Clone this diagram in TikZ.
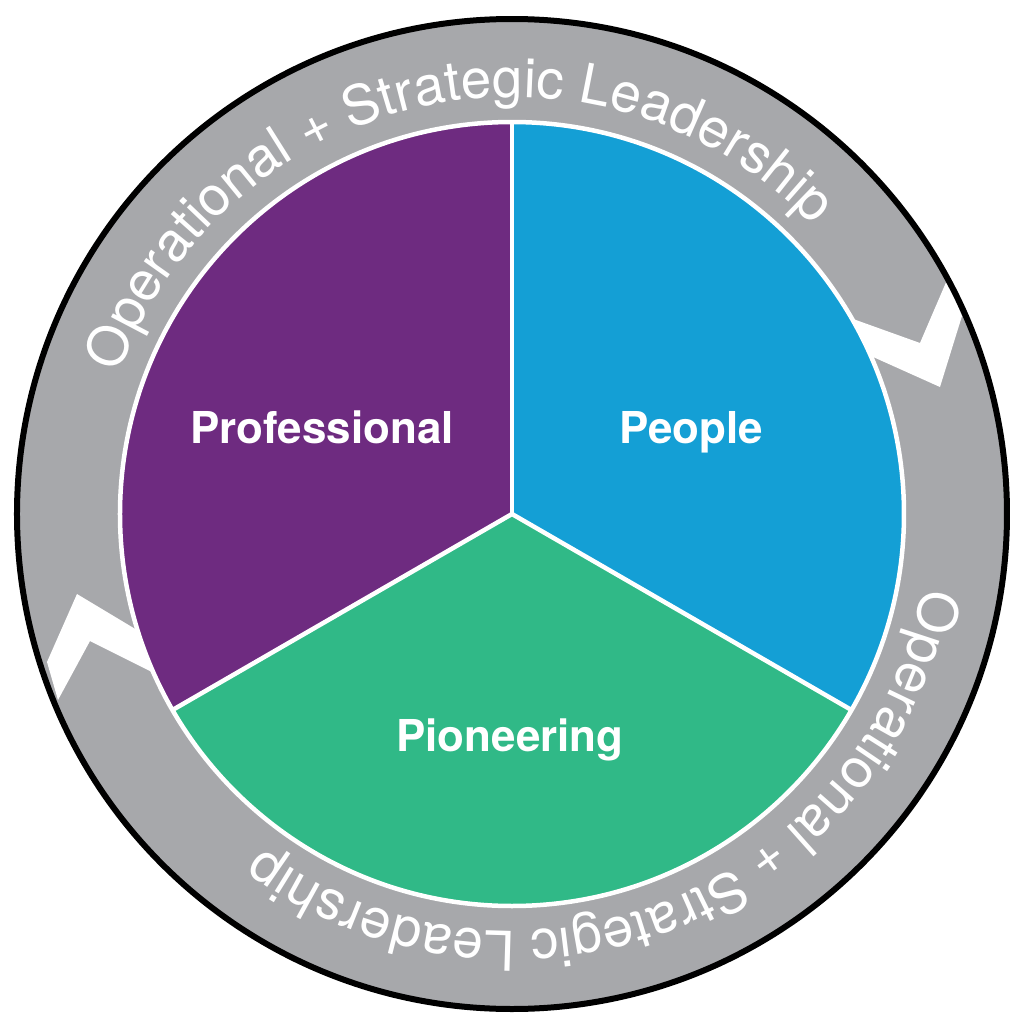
\documentclass[tikz,border=0pt]{standalone}
\usepackage{fontspec}
\setsansfont{TeX Gyre Heros}
\usepackage{tikz}
\usepackage{xcolor}
\usetikzlibrary{decorations.text}

\definecolor{profpurple}{RGB}{110,43,128}
\definecolor{peopleblue}{RGB}{20,159,213}
\definecolor{pioneergreen}{RGB}{48,185,135}
\definecolor{ringgray}{RGB}{167,168,171}

\newcommand{\ringfont}{\sffamily\fontsize{15.6}{18}\selectfont}

\tikzset{
  segtext/.style={text=white, anchor=base, inner sep=0pt,
    font=\sffamily\bfseries\fontsize{12.5}{15}\selectfont},
  divider/.style={draw=white, line width=0.045cm},
  ringtext/.style={decorate, decoration={text along path, text align=center,
    text color=white, text={|\ringfont|#1}}}
}

\begin{document}
\begin{tikzpicture}
            \useasboundingbox (-5.12,-5.10) rectangle (5.12,5.14);

            % Draw ring
            \fill[ringgray] (0,0) circle (4.95);

            % Draw notches in the ring
            \fill[white] (3.30,1.99) -- (4.08,1.71) -- (4.35,2.34) -- (4.50,1.98)
              -- (4.28,1.27) -- (3.50,1.62) -- cycle;
            \fill[white] (-3.65,-1.22) -- (-4.35,-0.80) -- (-4.65,-1.48) -- (-4.54,-1.86)
              -- (-4.22,-1.27) -- (-3.48,-1.64) -- cycle;

            % Draw sectors
            \fill[profpurple] (0,0) -- (90:3.92) arc (90:210:3.92) -- cycle;
            \fill[peopleblue] (0,0) -- (-30:3.92) arc (-30:90:3.92) -- cycle;
            \fill[pioneergreen] (0,0) -- (210:3.92) arc (210:330:3.92) -- cycle;
            \foreach \a in {90,210,330}
              \draw[divider] (0,0) -- (\a:3.92);
            \draw[divider] (0,0) circle (3.92);

            % Outer border
            \draw[black, line width=0.06cm] (0,0) circle (4.95);

            % Ring labels
            \path[ringtext={Operational + Strategic Leadership}] (172:4.17) arc (172:32:4.17);
            \path[ringtext={Operational + Strategic Leadership}] (1.5:4.17) arc (1.5:-138.5:4.17);

            % Sector labels
            \node[segtext] (prof) at (-1.90,0.71) {Professional};
            \node[segtext] (ppl) at (1.79,0.71) {People};
            \node[segtext] (pion) at (-0.02,-2.37) {Pioneering};
          \end{tikzpicture}
\end{document}
